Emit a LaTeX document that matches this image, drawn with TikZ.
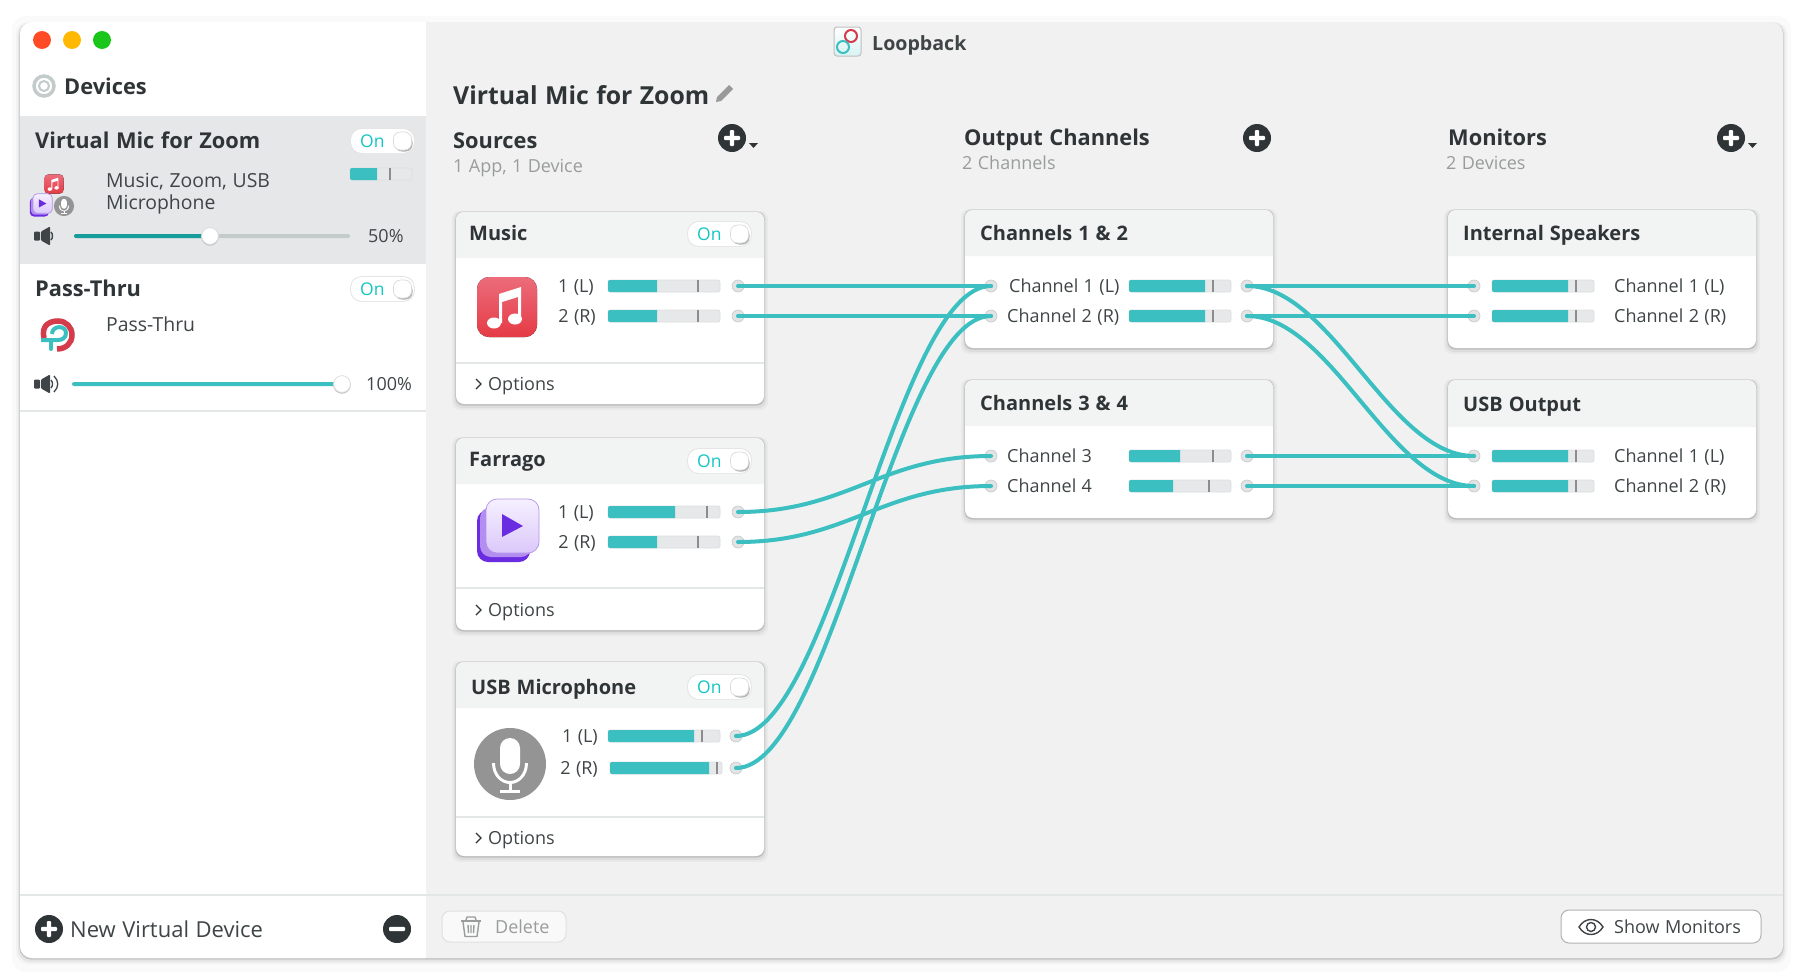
\documentclass[tikz,border=0pt]{standalone}
\usepackage{fontspec}
\setmainfont[WordSpace=1.15]{Open Sans}
\usepackage{xcolor}
\definecolor{inkcol}{HTML}{2F3537}
\definecolor{softink}{HTML}{3F4547}
\definecolor{dimtext}{HTML}{9A9C9C}
\definecolor{wirecol}{HTML}{3BBFC0}
\definecolor{slidedark}{HTML}{169C9A}
\definecolor{slidegray}{HTML}{C3CCCB}
\definecolor{panelcol}{HTML}{F1F1F1}
\definecolor{rowcol}{HTML}{E6E7E9}
\definecolor{headcol}{HTML}{F2F4F4}
\definecolor{trackcol}{HTML}{E6E8EA}
\definecolor{portcol}{HTML}{E1E3E4}
\definecolor{linecol}{HTML}{E3E7E6}
\definecolor{oncol}{HTML}{12C6C2}
\definecolor{knobline}{HTML}{C9CCCC}
\definecolor{musictop}{HTML}{EC6C7B}
\definecolor{musicend}{HTML}{E53B45}
\definecolor{farragoa}{HTML}{6A2CE0}
\definecolor{farragob}{HTML}{B48DF0}
\definecolor{farragoc}{HTML}{F5F0FF}
\definecolor{farragod}{HTML}{DCC8FB}
\definecolor{farragoe}{HTML}{B094EA}
\definecolor{ringred}{HTML}{D43C4C}

\tikzset{
  plain/.style={inner sep=0pt,text depth=0pt,anchor=west},
  appname/.style={plain,font=\bfseries\fontsize{21.8}{24}\selectfont,text height=15.5pt,text=inkcol},
  cardtitle/.style={plain,font=\bfseries\fontsize{20}{24}\selectfont,text height=14.5pt,text=inkcol},
  colhead/.style={plain,font=\bfseries\fontsize{21.8}{24}\selectfont,text height=15.5pt,text=inkcol},
  bighead/.style={plain,font=\bfseries\fontsize{24.8}{30}\selectfont,text height=18.5pt,text=inkcol},
  subhead/.style={plain,font=\fontsize{18}{20}\selectfont,text height=13pt,text=dimtext},
  rowlabel/.style={plain,font=\fontsize{18}{20}\selectfont,text height=13pt,text=softink},
  sidetext/.style={plain,font=\fontsize{19.4}{22}\selectfont,text height=14pt,text=softink},
  rowright/.style={rowlabel,anchor=east},
  port/.style={circle,fill=portcol,draw=knobline,line width=.7pt,minimum size=12pt,inner sep=0pt},
  wire/.style={draw=wirecol,line width=4pt,line cap=round},
  button/.style={rounded corners=8pt,line width=1pt},
  knobedge/.style={draw=black!14,fill=white,line width=.7pt},
  pics/musicicon/.style={code={
    \fill[top color=musictop,bottom color=musicend,rounded corners=#1] (-30,-30) rectangle (30,30);
    \fill[white] (-8,-13) -- (14,-20) -- (14,12) -- (11,12) -- (11,-10) -- (-5,-5) -- (-5,16) -- (-8,16) -- cycle;
    \fill[white] (-13,16) ellipse (7 and 5.5);
    \fill[white] (8,12) ellipse (7 and 5.5);
  }},
  pics/farragoicon/.style={code={
    \fill[farragoa,rounded corners=#1] (-31,-20) rectangle (22,32);
    \fill[farragob,rounded corners=#1] (-28,-23) rectangle (24,27);
    \draw[farragoe,top color=farragoc,bottom color=farragod,rounded corners=#1,line width=.7pt] (-22,-31) rectangle (31,23);
    \fill[farragoa] (-6,-16) -- (15,-4) -- (-6,7) -- cycle;
  }},
  pics/micicon/.style={code={
    \fill[black!42] (0,0) circle (36);
    \fill[white,rounded corners=#1] (-10,-26) rectangle (10,10);
    \fill[white] (-18,-1) .. controls (-18,12) and (-9,20) .. (0,20) .. controls (9,20) and (18,12) .. (18,-1)
      -- (15,-1) .. controls (15,10) and (8,17) .. (0,17) .. controls (-8,17) and (-15,10) .. (-15,-1) -- cycle;
    \fill[white] (-1.5,19) rectangle (1.5,26);
    \fill[white] (-10,26) rectangle (10,29);
  }},
  pics/speakerbody/.style={code={
    \fill[softink,rounded corners=1pt] (-9,-4.5) rectangle (-3,4.5);
    \fill[softink,rounded corners=1pt] (-2,-4.5) -- (7,-9.5) -- (7,9.5) -- (-2,4.5) -- cycle;
  }},
  pics/addcircle/.style={code={
    \fill[inkcol] (0,0) circle (14);
    \fill[white,rounded corners=1pt] (-8,-2.2) rectangle (8,2.2);
    \fill[white,rounded corners=1pt] (-2.2,-8) rectangle (2.2,8);
  }}
}

% soft shadow under a rounded box
\newcommand{\softbox}[5]{%
  \fill[black,opacity=.03,rounded corners=#5] (#1-4,#2-1) rectangle (#3+4,#4+6);
  \fill[black,opacity=.05,rounded corners=#5] (#1-2,#2-.5) rectangle (#3+2,#4+4);
  \fill[black,opacity=.14,rounded corners=#5] (#1-.6,#2-.5) rectangle (#3+.6,#4+1.6);
}
% card: left, top, right, bottom, end of head
\newcommand{\cardbox}[5]{%
  \softbox{#1}{#2}{#3}{#4}{8pt}
  \fill[white,rounded corners=8pt] (#1,#2) rectangle (#3,#4);
  \fill[headcol] (#1,#5) [rounded corners=8pt] -- (#1,#2) -- (#3,#2) [sharp corners] -- (#3,#5) -- cycle;
}
% level meter: left, right, y, end of fill, tick
\newcommand{\levelbar}[5]{%
  \draw[black!13,fill=trackcol,line width=.7pt,rounded corners=2pt] (#1,#3-6) rectangle (#2,#3+6);
  \fill[wirecol] (#4,#3-6) [rounded corners=2pt] -- (#1,#3-6) -- (#1,#3+6) [sharp corners] -- (#4,#3+6) -- cycle;
  \fill[black!45] (#5-.9,#3-6) rectangle (#5+.9,#3+6);
}
% on switch: name, left, y
\newcommand{\onswitch}[3]{%
  \fill[black!10,rounded corners=11pt] (#2-.8,#3-12.8) rectangle (#2+63.8,#3+12.8);
  \fill[white,rounded corners=11pt] (#2,#3-12) rectangle (#2+63,#3+12);
  \node[plain,font=\fontsize{17.5}{20}\selectfont,text height=12.5pt,text=oncol] (#1) at (#2+9,#3) {On};
  \fill[black!30,rounded corners=7pt] (#2+44,#3-6) rectangle (#2+61.5,#3+10.5);
  \draw[knobedge,rounded corners=7pt] (#2+42.5,#3-9) rectangle (#2+60.5,#3+9);
}
% options row: name, y, line y
\newcommand{\optionsrow}[3]{%
  \fill[linecol] (456,#3-1) rectangle (764,#3+1);
  \draw[inkcol,line width=1.1pt] (476,#2-5) -- (481,#2) -- (476,#2+5);
  \node[rowlabel] (#1) at (488,#2) {Options};
}

\begin{document}
\begin{tikzpicture}[x=1pt,y=-1pt]
  \useasboundingbox (0,0) rectangle (1800,980);
  \fill[white] (0,0) rectangle (1800,980);

  % window
  \fill[black,opacity=.02,rounded corners=14pt] (12,16) rectangle (1791,972);
  \softbox{20}{23}{1783}{958}{12pt}
  \fill[panelcol,rounded corners=12pt] (20,22) rectangle (1783,958);
  \fill[white] (426,22) [rounded corners=12pt] -- (20,22) -- (20,958) [sharp corners] -- (426,958) -- cycle;
  \fill[rowcol] (20,116) rectangle (426,264);
  \fill[linecol] (20,410) rectangle (426,412);
  \fill[linecol] (20,894) rectangle (1783,896);

  % title bar
  \fill[red!65!orange!85!white] (42,40) circle (9);
  \fill[orange!55!yellow] (72,40) circle (9);
  \fill[green!75!black!90!white] (102,40) circle (9);
  \draw[black!25,rounded corners=3pt,line width=1pt,top color=white,bottom color=wirecol!20!white] (834,27) rectangle (861,56);
  \draw[ringred,line width=2pt] (851,36) circle (6);
  \draw[wirecol,line width=2pt] (843,47) circle (6);
  \node[plain,font=\bfseries\fontsize{19.6}{22}\selectfont,text height=14pt,text=softink] (loopback) at (872,43) {Loopback};

  % sidebar
  \draw[slidegray,line width=3.5pt] (44,86) circle (10);
  \draw[slidegray,line width=2pt] (44,86) circle (5);
  \node[appname] (devices) at (64,87) {Devices};

  \node[appname] (zoomdev) at (35,141) {Virtual Mic for Zoom};
  \onswitch{zoomon}{351}{141}
  \pic at (54,184) [scale=.32] {musicicon=4pt};
  \pic at (41,205) [scale=.36] {farragoicon=4pt};
  \pic at (64,206) [scale=.28] {micicon=3pt};
  \node[sidetext] (zoomtext) at (106,180) {Music, Zoom, USB};
  \node[sidetext] (zoomtextb) at (106,202) {Microphone};
  \levelbar{350}{412}{174}{377}{390}
  \pic at (43,236) {speakerbody};
  \draw[softink,line width=1.4pt] (51,232) .. controls (53,234) and (53,238) .. (51,240);
  \fill[slidegray,rounded corners=2pt] (74,234) rectangle (350,238);
  \fill[slidedark,rounded corners=2pt] (74,234) rectangle (210,238);
  \fill[black!22] (210,237) circle (8.8);
  \draw[knobedge] (210,236) circle (8.4);
  \node[rowlabel] (zoomvol) at (368,236) {50\%};

  \node[appname] (passdev) at (35,289) {Pass-Thru};
  \onswitch{passon}{351}{289}
  \node[sidetext] (passtext) at (106,324) {Pass-Thru};
  \draw[ringred,line width=5.5pt] (44,338) .. controls (41,325) and (50,321) .. (58,321) .. controls (66,321) and (72,327) .. (72,335) .. controls (72,343) and (66,349) .. (57,349);
  \draw[wirecol,line width=4pt] (52,334) .. controls (52,325) and (66,325) .. (66,333) .. controls (66,338) and (62,340) .. (58,340) -- (41,340);
  \draw[wirecol,line width=4pt,line cap=round] (51,341) -- (51,349);
  \pic at (43,384) {speakerbody};
  \draw[softink,line width=1.3pt] (51,380) .. controls (53,382) and (53,386) .. (51,388);
  \draw[softink,line width=1.3pt] (54,376) .. controls (59,381) and (59,387) .. (54,392);
  \fill[wirecol,rounded corners=2pt] (72,382) rectangle (342,386);
  \fill[black!22] (342,385) circle (8.8);
  \draw[knobedge] (342,384) circle (8.4);
  \node[rowlabel] (passvol) at (366,384) {100\%};

  \pic at (49,929) {addcircle};
  \node[plain,font=\fontsize{22}{24}\selectfont,text height=15.5pt,text=softink] (newdev) at (70,930) {New Virtual Device};
  \fill[inkcol] (397,929) circle (14);
  \fill[white,rounded corners=1pt] (389,926.8) rectangle (405,931.2);

  % main panel heads
  \node[bighead] (zoomhead) at (453,95) {Virtual Mic for Zoom};
  \fill[black!40] (716,102) -- (717,97) -- (729,85) -- (733,89) -- (721,101) -- cycle;
  \node[colhead] (sources) at (453,141) {Sources};
  \node[subhead] (sourcesub) at (453,166) {1 App, 1 Device};
  \pic at (732,138) {addcircle};
  \fill[inkcol] (749,143) -- (758,143) -- (753.5,148) -- cycle;
  \node[colhead] (outputs) at (964,138) {Output Channels};
  \node[subhead] (outputsub) at (962,163) {2 Channels};
  \pic at (1257,138) {addcircle};
  \node[colhead] (monitors) at (1448,138) {Monitors};
  \node[subhead] (monitorsub) at (1446,163) {2 Devices};
  \pic at (1731,138) {addcircle};
  \fill[inkcol] (1748,143) -- (1757,143) -- (1752.5,148) -- cycle;

  % sources
  \cardbox{456}{212}{764}{404}{258}
  \node[cardtitle] (musicname) at (469,233) {Music};
  \onswitch{musicon}{688}{234}
  \pic at (507,307) {musicicon=12pt};
  \node[rowright] (musicl) at (594,286) {1 (L)};
  \node[rowright] (musicr) at (596,316) {2 (R)};
  \levelbar{608}{720}{286}{657}{698}
  \levelbar{608}{720}{316}{657}{698}
  \node[port] (musicout1) at (738,286) {};
  \node[port] (musicout2) at (738,316) {};
  \optionsrow{musicopt}{384}{363}

  \cardbox{456}{438}{764}{630}{484}
  \node[cardtitle] (farragoname) at (469,459) {Farrago};
  \onswitch{farragoon}{688}{461}
  \pic at (508,530) {farragoicon=11pt};
  \node[rowright] (farragol) at (594,512) {1 (L)};
  \node[rowright] (farragor) at (596,542) {2 (R)};
  \levelbar{608}{720}{512}{675}{707}
  \levelbar{608}{720}{542}{657}{698}
  \node[port] (farragoout1) at (738,512) {};
  \node[port] (farragoout2) at (738,542) {};
  \optionsrow{farragoopt}{610}{588}

  \cardbox{456}{662}{764}{856}{708}
  \node[cardtitle] (usbname) at (471,687) {USB Microphone};
  \onswitch{usbon}{688}{687}
  \pic at (510,764) {micicon=10pt};
  \node[rowright] (usbl) at (598,736) {1 (L)};
  \node[rowright] (usbr) at (598,768) {2 (R)};
  \levelbar{608}{720}{736}{694}{702}
  \levelbar{610}{722}{768}{709}{717}
  \node[port] (usbout1) at (736,736) {};
  \node[port] (usbout2) at (736,768) {};
  \optionsrow{usbopt}{838}{817}

  % output channels
  \cardbox{965}{210}{1273}{348}{256}
  \node[cardtitle] (chana) at (980,233) {Channels 1 \& 2};
  \node[port] (chanin1) at (991,286) {};
  \node[port] (chanin2) at (991,316) {};
  \node[rowlabel] (chan1) at (1009,286) {Channel 1 (L)};
  \node[rowlabel] (chan2) at (1007,316) {Channel 2 (R)};
  \levelbar{1129}{1231}{286}{1205}{1213}
  \levelbar{1129}{1231}{316}{1205}{1213}
  \node[port] (chanout1) at (1247,286) {};
  \node[port] (chanout2) at (1247,316) {};

  \cardbox{965}{380}{1273}{518}{426}
  \node[cardtitle] (chanb) at (980,403) {Channels 3 \& 4};
  \node[port] (chanin3) at (991,456) {};
  \node[port] (chanin4) at (991,486) {};
  \node[rowlabel] (chan3) at (1007,456) {Channel 3};
  \node[rowlabel] (chan4) at (1007,486) {Channel 4};
  \levelbar{1129}{1231}{456}{1180}{1213}
  \levelbar{1129}{1231}{486}{1173}{1209}
  \node[port] (chanout3) at (1247,456) {};
  \node[port] (chanout4) at (1247,486) {};

  % monitors
  \cardbox{1448}{210}{1756}{348}{256}
  \node[cardtitle] (spkname) at (1463,233) {Internal Speakers};
  \node[port] (spkin1) at (1474,286) {};
  \node[port] (spkin2) at (1474,316) {};
  \levelbar{1492}{1594}{286}{1568}{1576}
  \levelbar{1492}{1594}{316}{1568}{1576}
  \node[rowlabel] (spk1) at (1614,286) {Channel 1 (L)};
  \node[rowlabel] (spk2) at (1614,316) {Channel 2 (R)};

  \cardbox{1448}{380}{1756}{518}{427}
  \node[cardtitle] (outname) at (1463,404) {USB Output};
  \node[port] (outin1) at (1474,456) {};
  \node[port] (outin2) at (1474,486) {};
  \levelbar{1492}{1594}{456}{1568}{1576}
  \levelbar{1492}{1594}{486}{1568}{1576}
  \node[rowlabel] (out1) at (1614,456) {Channel 1 (L)};
  \node[rowlabel] (out2) at (1614,486) {Channel 2 (R)};

  % connections
  \draw[wire] (musicout1.center) -- (chanin1.center);
  \draw[wire] (musicout2.center) -- (chanin2.center);
  \draw[wire] (farragoout1.center) .. controls +(110,0) and +(-110,0) .. (chanin3.center);
  \draw[wire] (farragoout2.center) .. controls +(110,0) and +(-110,0) .. (chanin4.center);
  \draw[wire] (usbout1.center) .. controls +(95,0) and +(-95,0) .. (chanin1.center);
  \draw[wire] (usbout2.center) .. controls +(95,0) and +(-95,0) .. (chanin2.center);
  \draw[wire] (chanout1.center) -- (spkin1.center);
  \draw[wire] (chanout2.center) -- (spkin2.center);
  \draw[wire] (chanout1.center) .. controls +(85,0) and +(-85,0) .. (outin1.center);
  \draw[wire] (chanout2.center) .. controls +(85,0) and +(-85,0) .. (outin2.center);
  \draw[wire] (chanout3.center) -- (outin1.center);
  \draw[wire] (chanout4.center) -- (outin2.center);

  % bottom buttons
  \draw[button,draw=black!12,fill=white!60!panelcol] (442,911) rectangle (566,942);
  \draw[dimtext,line width=1.4pt,line join=round] (463,922) -- (465,936.5) -- (477,936.5) -- (479,922) (468,925) -- (468.5,933) (471,925) -- (471,933) (474,925) -- (473.5,933) (466,920) -- (467,917) -- (475,917) -- (476,920);
  \draw[dimtext,line width=2pt] (461,921) -- (481,921);
  \node[plain,font=\fontsize{18}{20}\selectfont,text height=13pt,text=dimtext] (deletetext) at (495,927) {Delete};
  \draw[button,draw=black!30,fill=white] (1561,910) rectangle (1761,943);
  \draw[softink,line width=1.4pt] (1579,927) .. controls (1585,917) and (1597,917) .. (1603,927) .. controls (1597,937) and (1585,937) .. (1579,927) -- cycle;
  \draw[softink,line width=1.4pt] (1591,927) circle (4.5);
  \node[rowlabel] (showtext) at (1614,927) {Show Monitors};
\end{tikzpicture}
\end{document}
